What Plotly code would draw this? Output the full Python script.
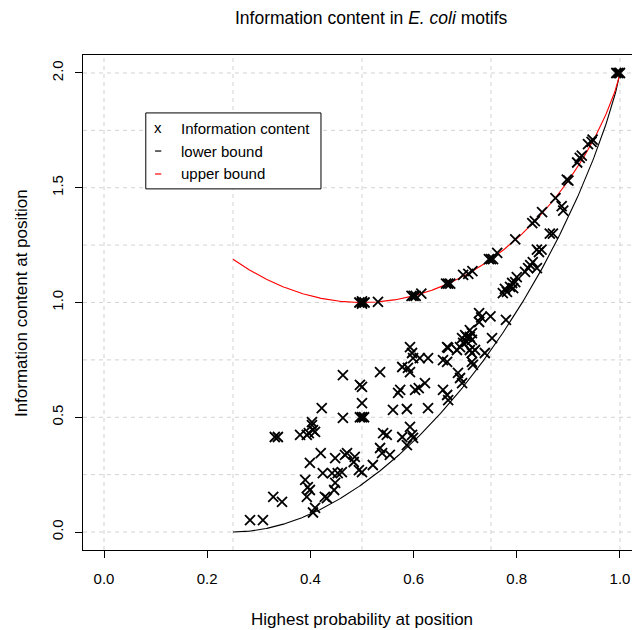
import numpy as np
import plotly.graph_objects as go

# Highest base probability and information content (bits) at each motif position
prob = [
    0.495, 0.500, 0.505, 0.500, 0.500, 0.531,
    0.596, 0.600, 0.604, 0.615,
    0.663, 0.667, 0.671,
    0.696, 0.706, 0.714,
    0.746, 0.750, 0.754, 0.762,
    0.797, 0.830, 0.835, 0.849, 0.875,
    0.897, 0.900, 0.917, 0.922, 0.926,
    0.938, 0.945, 0.947,
    0.993, 0.997, 1.000,
    0.887, 0.890, 0.864, 0.870, 0.839, 0.843, 0.848,
    0.816, 0.822, 0.826, 0.831, 0.839,
    0.773, 0.777, 0.781, 0.787, 0.791, 0.793, 0.797, 0.800,
    0.727, 0.731, 0.727, 0.749, 0.779,
    0.694, 0.700, 0.703, 0.709, 0.713, 0.703, 0.696, 0.690, 0.709, 0.713,
    0.752,
    0.709, 0.713, 0.719, 0.713, 0.715, 0.738,
    0.665, 0.667, 0.657, 0.665, 0.684, 0.686, 0.690, 0.694,
    0.657, 0.665, 0.667,
    0.593, 0.597, 0.599,
    0.578, 0.589, 0.593,
    0.612, 0.628,
    0.463, 0.535,
    0.496, 0.500,
    0.574, 0.570,
    0.603, 0.610, 0.622,
    0.422, 0.500,
    0.463,
    0.496, 0.500, 0.504,
    0.560, 0.587, 0.628,
    0.403, 0.403, 0.405, 0.409,
    0.380, 0.393, 0.397,
    0.331, 0.337,
    0.541, 0.548,
    0.578, 0.593, 0.597, 0.599,
    0.587,
    0.535, 0.539, 0.554,
    0.471, 0.486,
    0.420, 0.399,
    0.448, 0.467, 0.484,
    0.424, 0.442, 0.453, 0.461,
    0.494, 0.500, 0.521,
    0.390, 0.395, 0.399, 0.393,
    0.448, 0.446,
    0.428, 0.432,
    0.328, 0.345,
    0.409, 0.405,
    0.283, 0.308,
]
info = [
    1.000, 1.000, 1.000, 0.995, 1.005, 1.003,
    1.029, 1.029, 1.029, 1.039,
    1.082, 1.082, 1.082,
    1.120, 1.125, 1.137,
    1.189, 1.189, 1.189, 1.216,
    1.275, 1.346, 1.355, 1.394, 1.455,
    1.535, 1.531, 1.610, 1.630, 1.640,
    1.690, 1.700, 1.710,
    2.000, 2.000, 2.000,
    1.420, 1.400, 1.300, 1.300, 1.230, 1.220, 1.230,
    1.133, 1.150, 1.163, 1.176, 1.150,
    1.041, 1.059, 1.046, 1.068, 1.085, 1.063, 1.089, 1.111,
    0.954, 0.935, 0.915, 0.940, 0.924,
    0.845, 0.858, 0.850, 0.850, 0.837, 0.828, 0.824, 0.806, 0.880, 0.867,
    0.845,
    0.793, 0.780, 0.793, 0.741, 0.728, 0.780,
    0.806, 0.802, 0.749, 0.741, 0.793, 0.693, 0.671, 0.649,
    0.619, 0.597, 0.575,
    0.806, 0.780, 0.758,
    0.719, 0.715, 0.697,
    0.758, 0.758,
    0.684, 0.697,
    0.641, 0.632,
    0.619, 0.606,
    0.619, 0.627, 0.649,
    0.540, 0.562,
    0.497,
    0.500, 0.500, 0.500,
    0.532, 0.536, 0.540,
    0.479, 0.466, 0.444, 0.436,
    0.423, 0.423, 0.431,
    0.414, 0.414,
    0.431, 0.423,
    0.414, 0.458, 0.423, 0.410,
    0.379,
    0.366, 0.344, 0.336,
    0.344, 0.327,
    0.344, 0.301,
    0.322, 0.336, 0.305,
    0.257, 0.257, 0.257, 0.261,
    0.270, 0.261, 0.292,
    0.227, 0.196, 0.183, 0.153,
    0.214, 0.183,
    0.153, 0.148,
    0.153, 0.131,
    0.105, 0.085,
    0.052, 0.052,
]

x_ticks = [0.0, 0.2, 0.4, 0.6, 0.8, 1.0]
x_tick_labels = ["0.0", "0.2", "0.4", "0.6", "0.8", "1.0"]
y_ticks = [0.0, 0.5, 1.0, 1.5, 2.0]
y_tick_labels = ["0.0", "0.5", "1.0", "1.5", "2.0"]
grid_x = [0.0, 0.25, 0.5, 0.75, 1.0]
grid_y = [0.0, 0.25, 0.5, 0.75, 1.0, 1.25, 1.5, 1.75, 2.0]

FONT = "Liberation Sans, Arial, sans-serif"


def xlog2x(v):
    v = np.asarray(v, dtype=float)
    safe = np.where(v > 0, v, 1.0)
    return np.where(v > 0, v * np.log2(safe), 0.0)


def lower_bound(p):
    # remaining probability spread evenly over the other three bases
    q = (1.0 - p) / 3.0
    return 2.0 + xlog2x(p) + 3.0 * xlog2x(q)


def upper_bound(p):
    # remaining probability concentrated on a single other base
    return 2.0 + xlog2x(p) + xlog2x(1.0 - p)


p_curve = np.linspace(0.25, 1.0, 400)

fig = go.Figure()

fig.add_trace(go.Scatter(
    x=p_curve, y=lower_bound(p_curve), mode="lines",
    line=dict(color="black", width=1.1), hoverinfo="skip", showlegend=False,
))
fig.add_trace(go.Scatter(
    x=p_curve, y=upper_bound(p_curve), mode="lines",
    line=dict(color="#ff0000", width=1.1), hoverinfo="skip", showlegend=False,
))
fig.add_trace(go.Scatter(
    x=prob, y=info, mode="markers",
    marker=dict(symbol="x-thin", size=10, color="black",
                line=dict(color="black", width=1.8)),
    showlegend=False,
))

shapes = []
for gx in grid_x:
    shapes.append(dict(type="line", xref="x", yref="paper", x0=gx, x1=gx, y0=0, y1=1,
                       line=dict(color="#d3d3d3", width=1, dash="4px,4px"), layer="below"))
for gy in grid_y:
    shapes.append(dict(type="line", xref="paper", yref="y", x0=0, x1=1, y0=gy, y1=gy,
                       line=dict(color="#d3d3d3", width=1, dash="4px,4px"), layer="below"))

# legend frame and line keys
shapes.append(dict(type="rect", xref="x", yref="y", x0=0.081, x1=0.4205, y0=1.495, y1=1.826,
                   line=dict(color="black", width=1), fillcolor="white", layer="above"))
shapes.append(dict(type="line", xref="x", yref="y", x0=0.099, x1=0.111, y0=1.660, y1=1.660,
                   line=dict(color="black", width=1.2)))
shapes.append(dict(type="line", xref="x", yref="y", x0=0.099, x1=0.111, y0=1.560, y1=1.560,
                   line=dict(color="#ff0000", width=1.2)))

txt_font = dict(family=FONT, size=15, color="black")
annotations = [
    dict(text="x", x=0.105, y=1.762, xref="x", yref="y", showarrow=False,
         xanchor="center", yanchor="middle", font=txt_font),
    dict(text="Information content", x=0.145, y=1.760, xref="x", yref="y", showarrow=False,
         xanchor="left", yanchor="middle", font=txt_font),
    dict(text="lower bound", x=0.145, y=1.660, xref="x", yref="y", showarrow=False,
         xanchor="left", yanchor="middle", font=txt_font),
    dict(text="upper bound", x=0.145, y=1.560, xref="x", yref="y", showarrow=False,
         xanchor="left", yanchor="middle", font=txt_font),
    dict(text="Information content in <i>E. coli</i> motifs", x=0.526, y=1.075,
         xref="paper", yref="paper", showarrow=False, xanchor="center", yanchor="middle",
         font=dict(family=FONT, size=17.5, color="black")),
    dict(text="Highest probability at position", x=0.508, y=-0.141,
         xref="paper", yref="paper", showarrow=False, xanchor="center", yanchor="middle",
         font=dict(family=FONT, size=17, color="black")),
    dict(text="Information content at position", x=-0.111, y=0.499, textangle=-90,
         xref="paper", yref="paper", showarrow=False, xanchor="center", yanchor="middle",
         font=dict(family=FONT, size=17, color="black")),
]

fig.update_layout(
    width=632, height=630,
    margin=dict(l=83, r=0, t=55, b=80),
    paper_bgcolor="white", plot_bgcolor="white",
    shapes=shapes, annotations=annotations,
    showlegend=False,
    xaxis=dict(range=[-0.0407, 1.0233], tickvals=x_ticks, ticktext=x_tick_labels,
               ticks="outside", ticklen=7, tickcolor="black", showgrid=False, zeroline=False,
               showline=True, linecolor="black", linewidth=1, mirror=True,
               ticklabelstandoff=8,
               tickfont=dict(family=FONT, size=15, color="black")),
    yaxis=dict(range=[-0.0784, 2.0784], tickvals=y_ticks, ticktext=y_tick_labels,
               ticks="outside", ticklen=7, tickcolor="black", showgrid=False, zeroline=False,
               showline=True, linecolor="black", linewidth=1, mirror=False,
               tickangle=-90, ticklabelstandoff=6,
               tickfont=dict(family=FONT, size=15, color="black")),
)

fig.write_html("out.html")
